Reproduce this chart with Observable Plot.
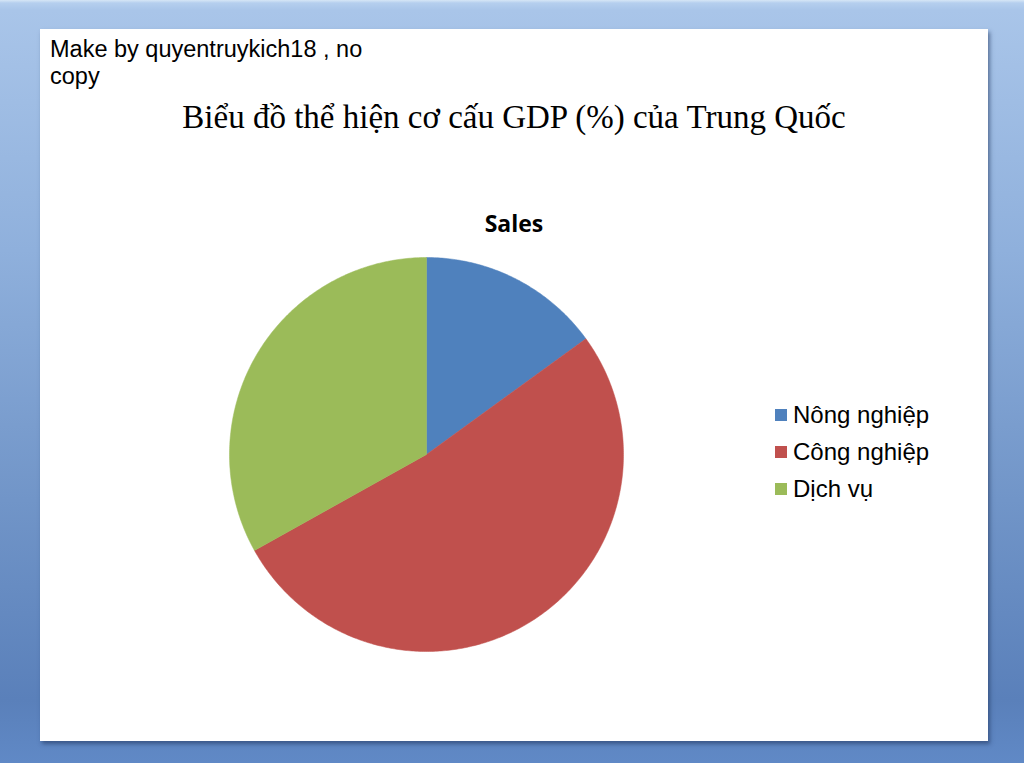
<!DOCTYPE html>
<html>
<head>
<meta charset="utf-8">
<script src="https://cdn.jsdelivr.net/npm/d3@7"></script>
<script src="https://cdn.jsdelivr.net/npm/@observablehq/plot@0.6"></script>
<style>
  html, body { margin: 0; padding: 0; width: 1024px; height: 763px; overflow: hidden; }
  body {
    background: linear-gradient(to bottom, #d6e6f6 0px, #b5cfee 3px, #a9c5e9 10px, #8fb0dc 250px, #7195c8 500px, #5a80ba 700px, #6089c6 763px);
    position: relative;
    font-family: "Liberation Sans", Arial, sans-serif;
  }
  #panel {
    position: absolute; left: 40px; top: 29px; width: 948px; height: 712px;
    background: #fff;
    box-shadow: 2px 3px 4px rgba(30, 50, 90, 0.55);
  }
  #note {
    position: absolute; left: 10px; top: 7px; width: 400px;
    font-family: "Liberation Sans", Arial, sans-serif; font-size: 23.5px; line-height: 26.5px; color: #000;
  }
  #title {
    position: absolute; left: 0; width: 948px; top: 70px; text-align: center;
    font-family: "Liberation Serif", "Times New Roman", serif; font-size: 33px; color: #000;
  }
  #sub {
    position: absolute; left: 0; width: 948px; top: 178px; text-align: center;
    font-family: "Open Sans", Lato, sans-serif; font-weight: bold; font-size: 23px; color: #000;
  }
  #chart { position: absolute; left: 0; top: 0; }
  #legend { position: absolute; left: 735px; top: 367px; }
  .item { display: flex; align-items: center; height: 37.3px; font-family: "Liberation Sans", Arial, sans-serif; font-size: 24px; color: #000; letter-spacing: 0px; }
  .sw { width: 12px; height: 12px; margin-right: 6px; }
</style>
</head>
<body>
<div id="panel">
  <div id="note">Make by quyentruykich18 , no<br>copy</div>
  <div id="title">Biểu đồ thể hiện cơ cấu GDP (%) của Trung Quốc</div>
  <div id="sub">Sales</div>
  <div id="chart"></div>
  <div id="legend"></div>
</div>
<script>
const categories = ["Nông nghiệp", "Công nghiệp", "Dịch vụ"];
const values = [15.0, 51.9, 33.1];
const colors = ["#4f81bd", "#c0504d", "#9bbb59"];

// pie angles derived from the values (clockwise from 12 o'clock)
const arcs = d3.pie().sort(null).value(d => d.value)(categories.map((c, i) => ({cat: c, value: values[i]})));
const pts = [];
for (const a of arcs) {
  const n = Math.max(2, Math.ceil((a.endAngle - a.startAngle) / 0.01));
  pts.push({cat: a.data.cat, x: 0, y: 0});
  for (let k = 0; k <= n; k++) {
    const t = a.startAngle + (a.endAngle - a.startAngle) * k / n;
    pts.push({cat: a.data.cat, x: Math.sin(t), y: Math.cos(t)});
  }
  pts.push({cat: a.data.cat, x: 0, y: 0});
}

const cx = 386, cy = 425, r = 197;
const chart = Plot.plot({
  width: 948, height: 712,
  margin: 0,
  style: {background: "transparent", overflow: "visible"},
  x: {domain: [-1, 1], range: [cx - r, cx + r], axis: null},
  y: {domain: [-1, 1], range: [cy + r, cy - r], axis: null},
  color: {domain: categories, range: colors},
  marks: [
    Plot.line(pts, {x: "x", y: "y", z: "cat", fill: "cat", stroke: "cat", strokeWidth: 0.5, curve: "linear"})
  ]
});
document.getElementById("chart").appendChild(chart);

const legend = document.getElementById("legend");
categories.forEach((c, i) => {
  const row = document.createElement("div");
  row.className = "item";
  const sw = document.createElement("div");
  sw.className = "sw";
  sw.style.background = colors[i];
  row.appendChild(sw);
  row.appendChild(document.createTextNode(c));
  legend.appendChild(row);
});
</script>
</body>
</html>
